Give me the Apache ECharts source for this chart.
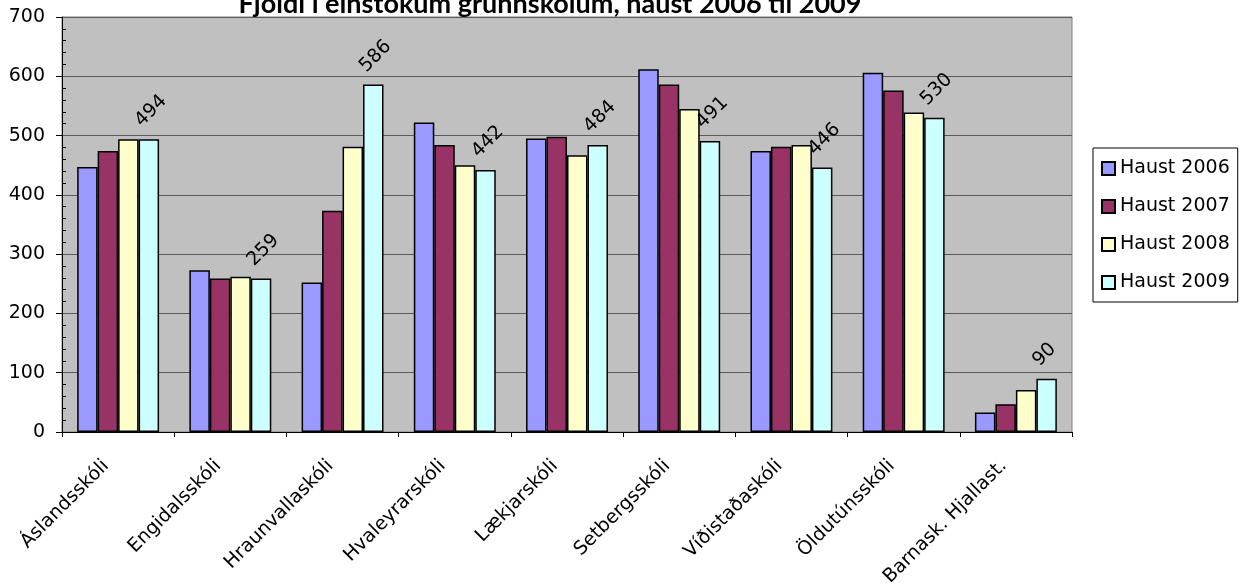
<!DOCTYPE html>
<html>
<head>
<meta charset="utf-8">
<script src="https://cdn.jsdelivr.net/npm/echarts@6/dist/echarts.min.js"></script>
<style>html,body{margin:0;padding:0;background:#fff;}#c{width:1243px;height:584px;}</style>
</head>
<body>
<div id="c"></div>
<script>
const categories = ['Áslandsskóli','Engidalsskóli','Hraunvallaskóli','Hvaleyrarskóli','Lækjarskóli','Setbergsskóli','Víðistaðaskóli','Öldutúnsskóli','Barnask. Hjallast.'];
const seriesNames = ['Haust 2006','Haust 2007','Haust 2008','Haust 2009'];
const haust2006 = [447, 273, 252, 522, 495, 612, 474, 606, 33];
const haust2007 = [474, 259, 373, 484, 498, 586, 481, 576, 47];
const haust2008 = [494, 262, 481, 450, 467, 545, 484, 539, 71];
const haust2009 = [494, 259, 586, 442, 484, 491, 446, 530, 90];
const yTicks = [0, 100, 200, 300, 400, 500, 600, 700];

const colors = ['#9999FF', '#993366', '#FFFFCC', '#CCFFFF'];
const values = [haust2006, haust2007, haust2008, haust2009];
const FONT = "'DejaVu Sans', sans-serif";

const chart = echarts.init(document.getElementById('c'), null, {renderer: 'canvas'});
chart.setOption({
  animation: false,
  backgroundColor: '#ffffff',
  title: {
    text: 'Fjöldi í einstökum grunnskólum, haust 2006 til 2009',
    left: 545, textAlign: 'center', top: -14,
    textStyle: {fontFamily: "Lato, 'Open Sans', sans-serif", fontWeight: 'bold', fontSize: 27, color: '#000'}
  },
  legend: {
    orient: 'vertical',
    left: 1093, top: 148,
    data: seriesNames,
    backgroundColor: '#fff',
    borderColor: '#000', borderWidth: 1,
    padding: [11, 8, 10, 8],
    itemGap: 19,
    itemWidth: 13, itemHeight: 13,
    icon: 'rect',
    textStyle: {fontFamily: FONT, fontSize: 19, color: '#000', lineHeight: 19}
  },
  grid: {
    left: 62, right: 171, top: 17, bottom: 152,
    containLabel: false,
    outerBoundsMode: 'none',
    show: true, backgroundColor: '#C0C0C0', borderColor: '#808080', borderWidth: 1
  },
  xAxis: {
    type: 'category',
    data: categories,
    axisLine: {show: true, lineStyle: {color: '#000', width: 1}},
    axisTick: {show: true, length: 5, lineStyle: {color: '#000'}},
    axisLabel: {rotate: 45, margin: 19, padding: [0, 17, 0, 0], fontFamily: FONT, fontSize: 19, color: '#000', interval: 0}
  },
  yAxis: [{
    type: 'value',
    min: yTicks[0], max: yTicks[yTicks.length - 1], interval: 100,
    axisLine: {show: true, lineStyle: {color: '#000', width: 1}},
    axisTick: {show: true, length: 6, lineStyle: {color: '#000'}},
    axisLabel: {margin: 17, fontFamily: FONT, fontSize: 19, color: '#000'},
    splitLine: {show: true, lineStyle: {color: '#5a5a5a', width: 1}}
  }, {
    type: 'value',
    position: 'left',
    min: yTicks[0], max: yTicks[yTicks.length - 1], interval: 100,
    axisLine: {show: false},
    axisTick: {show: false, inside: true},
    axisLabel: {show: false},
    splitLine: {show: false},
    minorTick: {show: true, splitNumber: 5, length: 4, lineStyle: {color: '#000'}}
  }],
  series: seriesNames.map((name, i) => ({
    name: name,
    type: 'bar',
    yAxisIndex: 0,
    data: values[i],
    barGap: '0%',
    barCategoryGap: '27%',
    itemStyle: {color: colors[i], borderColor: '#000', borderWidth: 1.5},
    label: i === 3 ? {
      show: true, position: 'top', distance: 26, rotate: 45,
      align: 'left', verticalAlign: 'middle', offset: [-15, 0],
      fontFamily: FONT, fontSize: 19, color: '#000', formatter: '{c}'
    } : {show: false}
  }))
});
</script>
</body>
</html>
